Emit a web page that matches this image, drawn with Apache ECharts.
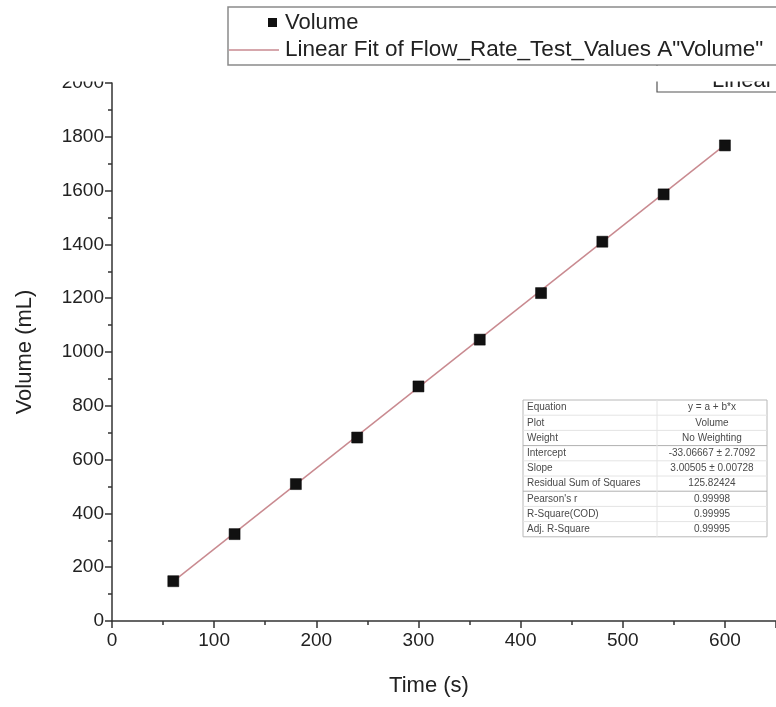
<!DOCTYPE html>
<html>
<head>
<meta charset="utf-8">
<script src="https://cdn.jsdelivr.net/npm/echarts@6/dist/echarts.min.js"></script>
<style>
  html, body { margin: 0; padding: 0; background: #fff; }
  #main { width: 776px; height: 707px; }
</style>
</head>
<body>
<div id="main"></div>
<script>
// measured points
var timeValues = [60, 120, 180, 240, 300, 360, 420, 480, 540, 600];
var volumeValues = [148, 323, 509, 682, 872, 1046, 1219, 1410, 1586, 1768];

// fit line ends
var fitX = [60, 600];
var fitY = [147, 1770];

// fit result table
var tableLabels = ['Equation', 'Plot', 'Weight', 'Intercept', 'Slope',
  'Residual Sum of Squares', "Pearson's r", 'R-Square(COD)', 'Adj. R-Square'];
var tableValues = ['y = a + b*x', 'Volume', 'No Weighting', '-33.06667 \u00b1 2.7092',
  '3.00505 \u00b1 0.00728', '125.82424', '0.99998', '0.99995', '0.99995'];

var legendNames = ['Volume', 'Linear Fit of Flow_Rate_Test_Values A"Volume"'];

var font = '"Liberation Sans", Arial, sans-serif';
var fitColor = '#c98a90';

var chart = echarts.init(document.getElementById('main'));

var pts = timeValues.map(function (t, i) { return [t, volumeValues[i]]; });
var fitPts = fitX.map(function (t, i) { return [t, fitY[i]]; });

// table drawn as graphic elements
var tX = 523, tY = 400, tW = 244, rowH = 15.2, divX = 657;
var tableEls = [{
  type: 'rect', shape: { x: tX, y: tY, width: tW, height: rowH * tableLabels.length },
  style: { fill: '#fff', stroke: '#b8b8b8', lineWidth: 1 }, z: 10
}];
tableLabels.forEach(function (lab, i) {
  var cy = tY + rowH * i + rowH / 2;
  if (i > 0) {
    var strong = (i === 3 || i === 6);
    tableEls.push({
      type: 'line', shape: { x1: tX, y1: tY + rowH * i, x2: tX + tW, y2: tY + rowH * i },
      style: { stroke: strong ? '#b0b0b0' : '#e4e4e4', lineWidth: 1 }, z: 11
    });
  }
  tableEls.push({
    type: 'text', x: tX + 4, y: cy, z: 12,
    style: { text: lab, fill: '#4a4a4a', font: '10px ' + font, verticalAlign: 'middle' }
  });
  tableEls.push({
    type: 'text', x: (divX + tX + tW) / 2, y: cy, z: 12,
    style: { text: tableValues[i], fill: '#4a4a4a', font: '10px ' + font, align: 'center', verticalAlign: 'middle' }
  });
});
tableEls.push({
  type: 'line', shape: { x1: divX, y1: tY, x2: divX, y2: tY + rowH * tableLabels.length },
  style: { stroke: '#e4e4e4', lineWidth: 1 }, z: 11
});

var graphics = [
  // the half hidden box behind the legend
  { type: 'rect', shape: { x: 657, y: 60, width: 140, height: 32 },
    style: { fill: '#fff', stroke: '#555', lineWidth: 1.2 }, z: 5 },
  { type: 'text', x: 712, y: 92, z: 6,
    style: { text: 'Linear', fill: '#222', font: '22px ' + font, verticalAlign: 'bottom' } },
  // white band that cuts the tops off
  { type: 'rect', shape: { x: 0, y: 66, width: 776, height: 15.5 }, style: { fill: '#fff' }, z: 7 },
  // legend
  { type: 'rect', shape: { x: 228, y: 7, width: 560, height: 58 },
    style: { fill: '#fff', stroke: '#8a8a8a', lineWidth: 1.5 }, z: 8 },
  { type: 'rect', shape: { x: 268, y: 18, width: 9, height: 9 }, style: { fill: '#111' }, z: 9 },
  { type: 'text', x: 285, y: 23, z: 9,
    style: { text: legendNames[0], fill: '#222', font: '22px ' + font, verticalAlign: 'middle' } },
  { type: 'line', shape: { x1: 229, y1: 50, x2: 279, y2: 50 },
    style: { stroke: fitColor, lineWidth: 1.5 }, z: 9 },
  { type: 'text', x: 285, y: 50, z: 9,
    style: { text: legendNames[1], fill: '#222', font: '22.5px ' + font, verticalAlign: 'middle' } }
].concat(tableEls);

chart.setOption({
  animation: false,
  backgroundColor: '#fff',
  grid: { left: 112, top: 83, width: 666, height: 538 },
  xAxis: {
    type: 'value', min: 0, max: 650, interval: 100,
    name: 'Time (s)', nameLocation: 'middle', nameGap: 54,
    nameTextStyle: { fontSize: 22, color: '#222', fontFamily: font, padding: [0, 30, 0, 0] },
    axisLine: { lineStyle: { color: '#333', width: 1.5 } },
    axisTick: { length: 7, lineStyle: { color: '#333', width: 1.5 } },
    minorTick: { show: true, splitNumber: 2, length: 4, lineStyle: { color: '#333', width: 1.5 } },
    axisLabel: { fontSize: 19, color: '#222', fontFamily: font, margin: 10, showMaxLabel: false,
      formatter: function (v) { return String(v); } },
    splitLine: { show: false }
  },
  yAxis: {
    type: 'value', min: 0, max: 2000, interval: 200,
    name: 'Volume (mL)', nameLocation: 'middle', nameGap: 76,
    nameTextStyle: { fontSize: 22, color: '#222', fontFamily: font },
    axisLine: { show: true, lineStyle: { color: '#333', width: 1.5 } },
    axisTick: { show: true, length: 7, lineStyle: { color: '#333', width: 1.5 } },
    minorTick: { show: true, splitNumber: 2, length: 4, lineStyle: { color: '#333', width: 1.5 } },
    axisLabel: { fontSize: 19, color: '#222', fontFamily: font, margin: 8,
      formatter: function (v) { return String(v); } },
    splitLine: { show: false }
  },
  series: [
    {
      name: legendNames[1], type: 'line', data: fitPts,
      showSymbol: false, lineStyle: { color: fitColor, width: 1.5 }, z: 2
    },
    {
      name: legendNames[0], type: 'scatter', data: pts,
      symbol: 'rect', symbolSize: 11,
      itemStyle: { color: '#111', borderColor: '#000', borderWidth: 0.5, opacity: 1 }, z: 3
    }
  ],
  graphic: graphics
});
</script>
</body>
</html>
